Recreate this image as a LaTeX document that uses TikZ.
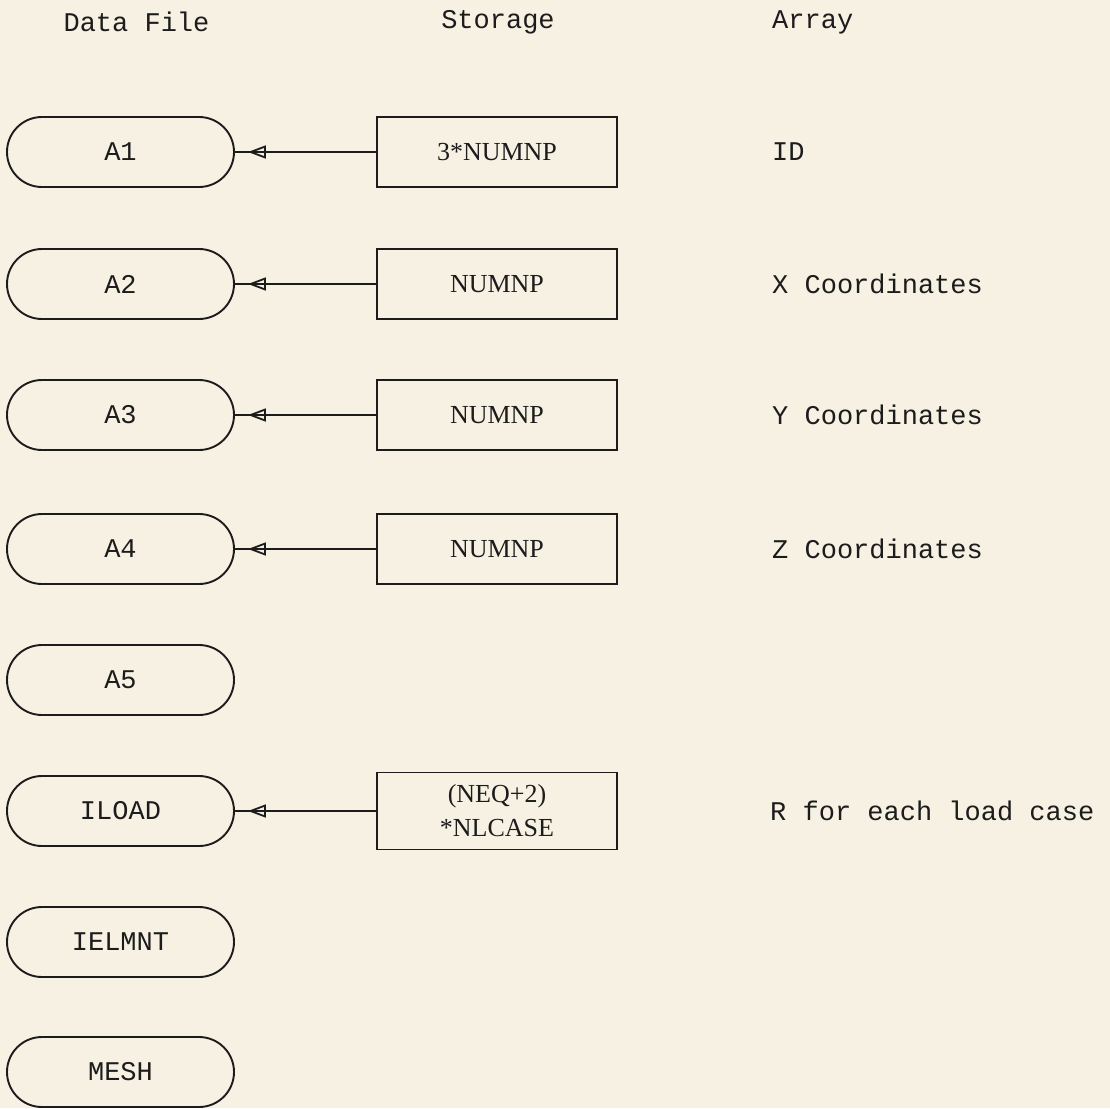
\documentclass[tikz,border=0pt]{standalone}
\usepackage{fontspec}
\setmainfont{Liberation Serif}
\setmonofont{Liberation Mono}
\usetikzlibrary{arrows.meta,decorations.markings}
\definecolor{paper}{HTML}{F6F1E3}
\definecolor{ink}{HTML}{1C1C1C}
\begin{document}
\begin{tikzpicture}[x=1pt,y=-1pt,
  every node/.style={text=ink},
  filebox/.style={draw=ink, line width=1.9pt, minimum width=227pt, minimum height=70pt,
    rounded corners=35pt, inner sep=0pt, font=\ttfamily\fontsize{27}{30}\selectfont},
  storebox/.style={draw=ink, line width=1.9pt, minimum width=240pt, minimum height=70pt,
    inner sep=0pt, align=center, font=\rmfamily\fontsize{26}{40}\selectfont},
  head/.style={font=\ttfamily\fontsize{27}{30}\selectfont, inner sep=0pt},
  lbl/.style={font=\ttfamily\fontsize{27}{30}\selectfont, inner sep=0pt, anchor=west},
  feed/.style={draw=ink, line width=1.8pt,
    postaction={decorate},
    decoration={markings, mark=at position -13pt with {\arrow[line width=1.8pt]{Triangle[open,length=18pt 0,width=13pt 0]}}}}
  ]
\fill[paper] (0,0) rectangle (1110,1108);
\useasboundingbox (0,0) rectangle (1110,1108);

\node[head] (hfile) at (136.5,22) {Data File};
\node[head] (hstore) at (498,22) {Storage};
\node[head, anchor=west] (harr) at (772,22) {Array};

\node[filebox] (f1) at (120.5,152) {A1};
\node[filebox] (f2) at (120.5,284) {A2};
\node[filebox] (f3) at (120.5,415) {A3};
\node[filebox] (f4) at (120.5,549) {A4};
\node[filebox] (f5) at (120.5,680) {A5};
\node[filebox] (f6) at (120.5,811) {ILOAD};
\node[filebox] (f7) at (120.5,942) {IELMNT};
\node[filebox] (f8) at (120.5,1072) {MESH};

\node[storebox] (s1) at (497,152) {3*NUMNP};
\node[storebox] (s2) at (497,284) {NUMNP};
\node[storebox] (s3) at (497,415) {NUMNP};
\node[storebox] (s4) at (497,549) {NUMNP};
\node[storebox, minimum height=77pt] (s6) at (497,811) {(NEQ+2)\\[-6pt]*NLCASE};

\node[lbl] (l1) at (772,152) {ID};
\node[lbl] (l2) at (772,284) {X Coordinates};
\node[lbl] (l3) at (772,415) {Y Coordinates};
\node[lbl] (l4) at (772,549) {Z Coordinates};
\node[lbl] (l6) at (770,811) {R for each load case};

\draw[feed] (s1.west) -- (f1.east);
\draw[feed] (s2.west) -- (f2.east);
\draw[feed] (s3.west) -- (f3.east);
\draw[feed] (s4.west) -- (f4.east);
\draw[feed] (s6.west) -- (f6.east);
\end{tikzpicture}
\end{document}
